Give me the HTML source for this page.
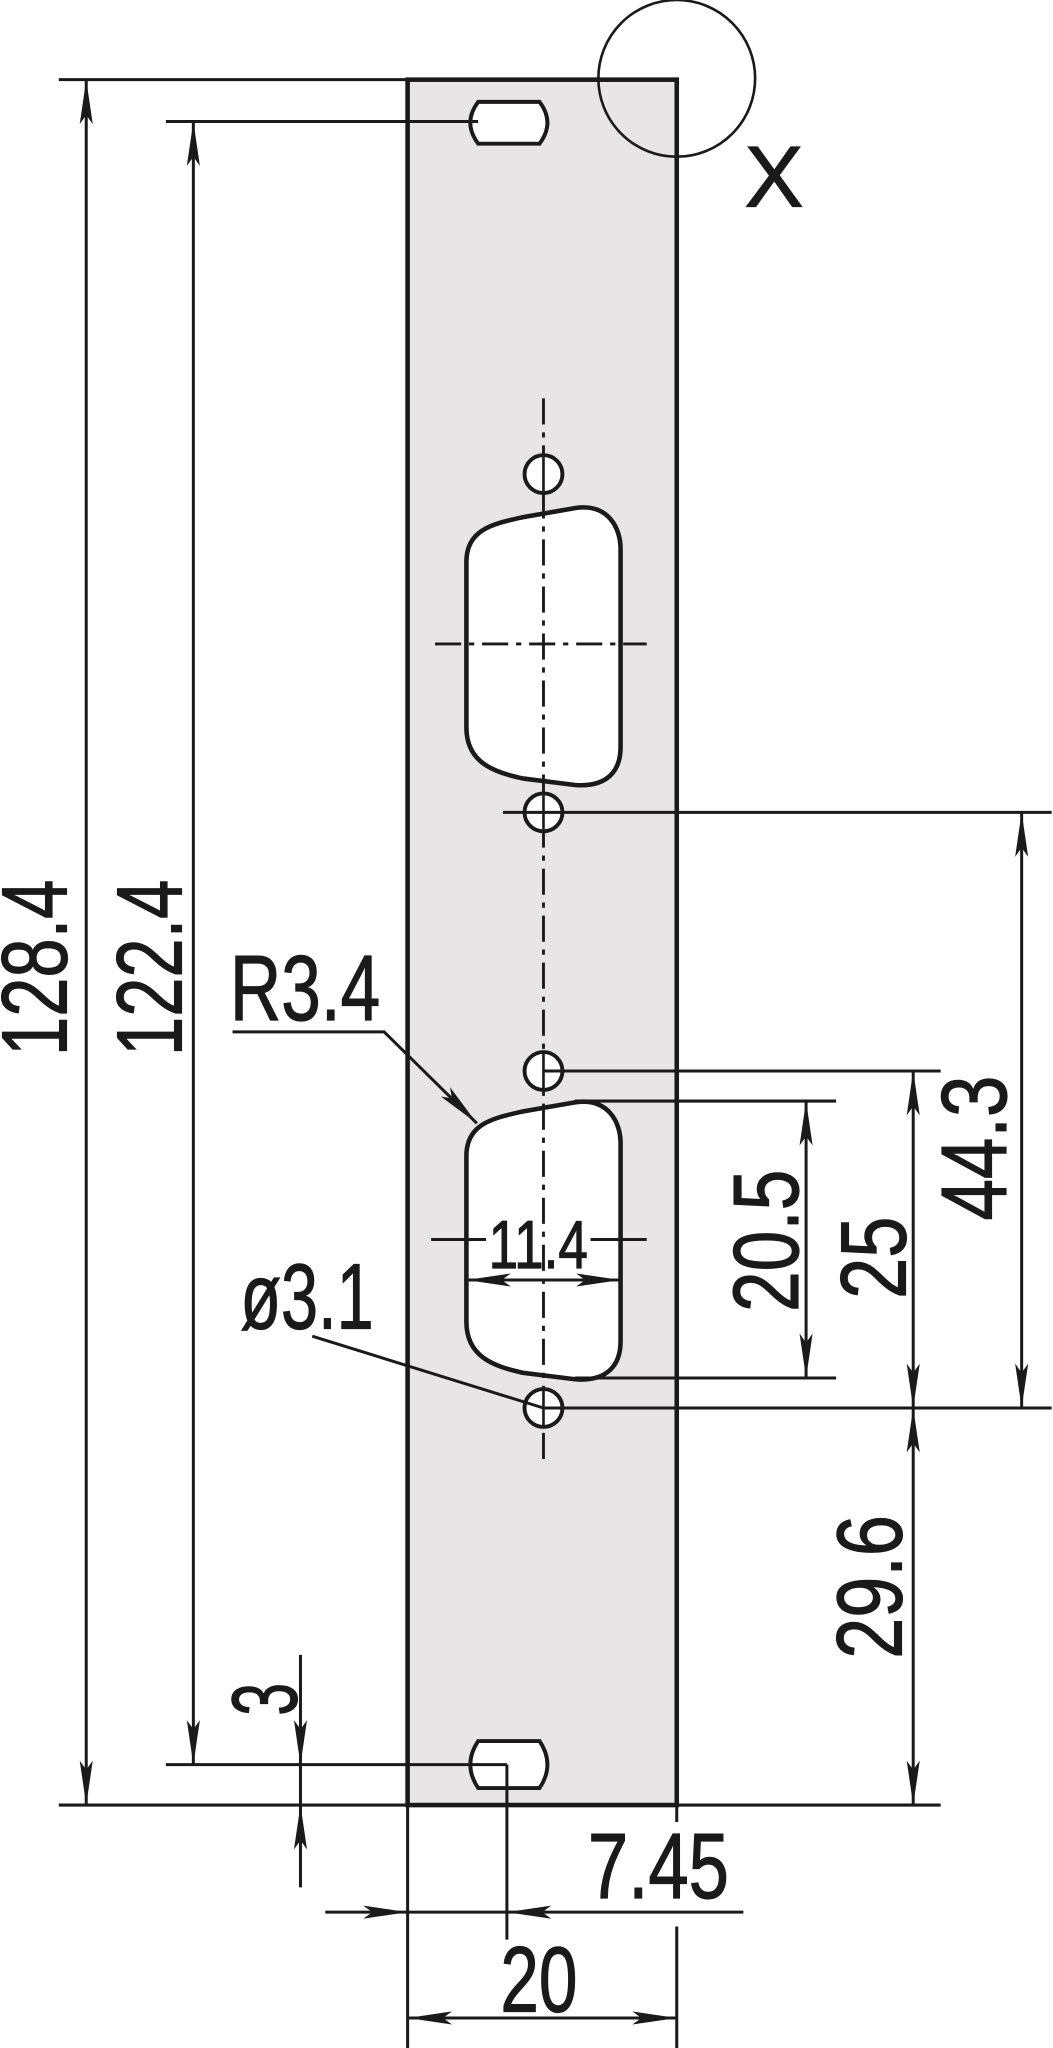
<!DOCTYPE html>
<html><head><meta charset="utf-8"><style>html,body{margin:0;padding:0;background:#fff}svg{display:block}</style></head>
<body>
<svg width="1053" height="2048" viewBox="0 0 806 1568" preserveAspectRatio="none" xmlns="http://www.w3.org/2000/svg">
<defs>
<path id="a" d="M0,0 L-5,34 L0,27 L5,34 Z" fill="#1a1a1a"/>
</defs>
<g stroke="#1a1a1a" fill="none">
<rect x="312" y="61" width="206" height="1321" fill="#e7e5e6" stroke-width="3.5"/>
<circle cx="518" cy="60" r="60" stroke-width="2"/>
<path d="M366,78 L413,78 Q425,94 413,110 L366,110 Q354,94 366,78Z" fill="#fff" stroke-width="3"/>
<path d="M366,1333 L413,1333 Q425,1351 413,1369 L366,1369 Q354,1351 366,1333Z" fill="#fff" stroke-width="3"/>
<path d="M357,430 C357,405 378,401 400,396 L440,389 C466,385 475,405 475,420 L475,572 C475,590 465,603 440,601 L400,596 C378,591 357,584 357,557 Z" fill="#fff" stroke-width="3.5"/>
<path transform="translate(0,455)" d="M357,430 C357,405 378,401 400,396 L440,389 C466,385 475,405 475,420 L475,572 C475,590 465,603 440,601 L400,596 C378,591 357,584 357,557 Z" fill="#fff" stroke-width="3.5"/>
<line x1="416" y1="305" x2="416" y2="1120" stroke-width="2.2" stroke-dasharray="20 6 4 6"/>
<line x1="333" y1="493" x2="495" y2="493" stroke-width="2.2" stroke-dasharray="20 6 4 6"/>
<circle cx="416" cy="363" r="14.5" fill="#fff" stroke-width="3"/>
<circle cx="416" cy="622" r="14.5" fill="#fff" stroke-width="3"/>
<circle cx="416" cy="820" r="14.5" fill="#fff" stroke-width="3"/>
<circle cx="416" cy="1078" r="14.5" fill="#fff" stroke-width="3"/>
<line x1="416" y1="350" x2="416" y2="376" stroke-width="2"/>
<line x1="416" y1="609" x2="416" y2="635" stroke-width="2"/>
<line x1="416" y1="807" x2="416" y2="833" stroke-width="2"/>
<line x1="416" y1="1065" x2="416" y2="1091" stroke-width="2"/>
<g stroke-width="2.3">
<line x1="45" y1="61" x2="312" y2="61"/>
<line x1="127" y1="93" x2="366" y2="93"/>
<line x1="45" y1="1382" x2="720" y2="1382"/>
<line x1="127" y1="1351" x2="388" y2="1351"/>
<line x1="66" y1="61" x2="66" y2="1382"/>
<line x1="148" y1="93" x2="148" y2="1351"/>
<line x1="385" y1="622" x2="805" y2="622"/>
<line x1="416" y1="820" x2="720" y2="820"/>
<line x1="440" y1="843" x2="640" y2="843"/>
<line x1="440" y1="1055" x2="640" y2="1055"/>
<line x1="416" y1="1078" x2="805" y2="1078"/>
<line x1="782" y1="622" x2="782" y2="1078"/>
<line x1="699" y1="820" x2="699" y2="1382"/>
<line x1="617" y1="843" x2="617" y2="1055"/>
<line x1="330" y1="949" x2="372" y2="949"/>
<line x1="452" y1="949" x2="495" y2="949"/>
<line x1="357" y1="980" x2="475" y2="980"/>
<polyline points="178,790 294,790 365,860"/>
<line x1="239" y1="1023" x2="416" y2="1078"/>
<line x1="230" y1="1267" x2="230" y2="1445"/>
<line x1="388" y1="1351" x2="388" y2="1485"/>
<line x1="249" y1="1464" x2="569" y2="1464"/>
<line x1="312" y1="1382" x2="312" y2="1568"/>
<line x1="518" y1="1382" x2="518" y2="1395"/>
<line x1="518" y1="1475" x2="518" y2="1568"/>
<line x1="312" y1="1545" x2="518" y2="1545"/>
</g>
</g>
<use href="#a" transform="translate(66,61)"/>
<use href="#a" transform="translate(66,1382) rotate(180)"/>
<use href="#a" transform="translate(148,93)"/>
<use href="#a" transform="translate(148,1351) rotate(180)"/>
<use href="#a" transform="translate(782,622)"/>
<use href="#a" transform="translate(782,1078) rotate(180)"/>
<use href="#a" transform="translate(699,820)"/>
<use href="#a" transform="translate(699,1078) rotate(180)"/>
<use href="#a" transform="translate(699,1078)"/>
<use href="#a" transform="translate(699,1382) rotate(180)"/>
<use href="#a" transform="translate(617,843)"/>
<use href="#a" transform="translate(617,1055) rotate(180)"/>
<use href="#a" transform="translate(357,980) rotate(-90)"/>
<use href="#a" transform="translate(475,980) rotate(90)"/>
<use href="#a" transform="translate(365,860) rotate(135)"/>
<use href="#a" transform="translate(230,1351) rotate(180)"/>
<use href="#a" transform="translate(230,1382)"/>
<use href="#a" transform="translate(312,1464) rotate(90)"/>
<use href="#a" transform="translate(388,1464) rotate(-90)"/>
<use href="#a" transform="translate(312,1545) rotate(-90)"/>
<use href="#a" transform="translate(518,1545) rotate(90)"/>
<g font-family="Liberation Sans, Arial, sans-serif" fill="#1a1a1a" stroke="#1a1a1a" stroke-width="0.9" font-size="71">
<text transform="translate(51,741) rotate(-90)" text-anchor="middle" textLength="135" lengthAdjust="spacingAndGlyphs">128.4</text>
<text transform="translate(139,741) rotate(-90)" text-anchor="middle" textLength="135" lengthAdjust="spacingAndGlyphs">122.4</text>
<text x="176" y="781" textLength="115" lengthAdjust="spacingAndGlyphs">R3.4</text>
<text x="184" y="1017" textLength="102" lengthAdjust="spacingAndGlyphs">ø3.1</text>
<text x="374" y="971" font-size="52" textLength="76" lengthAdjust="spacingAndGlyphs">11.4</text>
<text transform="translate(611,950) rotate(-90)" text-anchor="middle" textLength="109" lengthAdjust="spacingAndGlyphs">20.5</text>
<text transform="translate(693,963) rotate(-90)" text-anchor="middle" textLength="63" lengthAdjust="spacingAndGlyphs">25</text>
<text transform="translate(770,879) rotate(-90)" text-anchor="middle" textLength="111" lengthAdjust="spacingAndGlyphs">44.3</text>
<text transform="translate(690,1215) rotate(-90)" text-anchor="middle" textLength="110" lengthAdjust="spacingAndGlyphs">29.6</text>
<text transform="translate(227,1301) rotate(-90)" text-anchor="middle" textLength="25" lengthAdjust="spacingAndGlyphs">3</text>
<text x="450" y="1453" textLength="108" lengthAdjust="spacingAndGlyphs">7.45</text>
<text x="383" y="1540" textLength="59" lengthAdjust="spacingAndGlyphs">20</text>
<text x="570" y="158" font-size="66" textLength="45" lengthAdjust="spacingAndGlyphs">X</text>
</g>
</svg>
</body></html>
